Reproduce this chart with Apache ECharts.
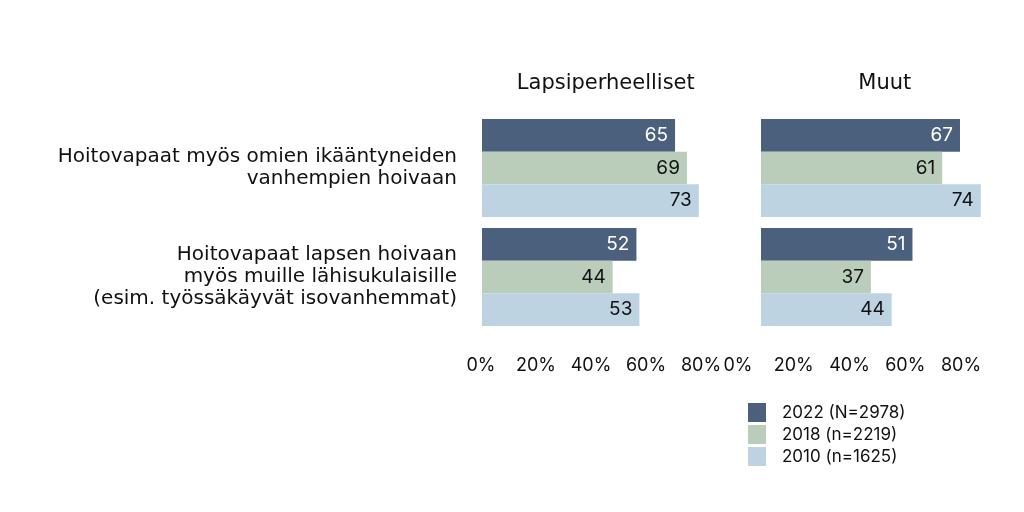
<!DOCTYPE html>
<html><head><meta charset="utf-8">
<script src="https://cdn.jsdelivr.net/npm/echarts@6/dist/echarts.min.js"></script>
<style>html,body{margin:0;padding:0;background:#fff}#c{width:1024px;height:512px}</style>
</head><body><div id="c"></div>
<script>
const categories = ['Hoitovapaat myös omien ikääntyneiden\nvanhempien hoivaan', 'Hoitovapaat lapsen hoivaan\nmyös muille lähisukulaisille\n(esim. työssäkäyvät isovanhemmat)'];
const panels = ['Lapsiperheelliset', 'Muut'];
const seriesNames = ['2022 (N=2978)', '2018 (n=2219)', '2010 (n=1625)'];
const lapsi2022 = [65, 52];
const lapsi2018 = [69, 44];
const lapsi2010 = [73, 53];
const muut2022 = [67, 51];
const muut2018 = [61, 37];
const muut2010 = [74, 44];
const tickValues = [0, 20, 40, 60, 80];

const colors = ['#4b607c', '#bacdbb', '#bed3e2'];
const labelColors = ['#ffffff', '#111111', '#111111'];
const FONT = 'Inter';
const WIDE = 'DejaVu Sans';

const data = [[lapsi2022, lapsi2018, lapsi2010], [muut2022, muut2018, muut2010]];
const gridLefts = [482, 761];
const gridW = 237.6;

const chart = echarts.init(document.getElementById('c'));
const grids = [], xAxes = [], yAxes = [], series = [], titles = [];
for (let p = 0; p < 2; p++) {
  grids.push({left: gridLefts[p], top: 113.5, width: gridW, height: 218});
  xAxes.push({type: 'value', gridIndex: p, min: 0, max: 80, show: false});
  yAxes.push({type: 'category', gridIndex: p, inverse: true, data: categories,
    axisLine: {show: false}, axisTick: {show: false}, splitLine: {show: false},
    axisLabel: {show: p === 0, margin: 25, fontFamily: WIDE, fontSize: 20, lineHeight: 22, color: '#111', align: 'right'}});
  titles.push({text: panels[p], left: gridLefts[p] + gridW / 2, top: 68, textAlign: 'center',
    textStyle: {fontFamily: WIDE, fontSize: 21, fontWeight: 'normal', color: '#111'}});
  for (let s = 0; s < 3; s++) {
    series.push({type: 'bar', name: seriesNames[s], xAxisIndex: p, yAxisIndex: p,
      data: data[p][s], barGap: '0%', barCategoryGap: '10%',
      itemStyle: {color: colors[s]},
      label: {show: true, position: 'insideRight', distance: 7, fontFamily: FONT, fontSize: 19, color: labelColors[s]},
      emphasis: {disabled: true}});
  }
}
// tick label axes
const tickLefts = [481, 738];
const tickW = [220, 223];
for (let p = 0; p < 2; p++) {
  grids.push({left: tickLefts[p], top: 350, width: tickW[p], height: 1});
  xAxes.push({type: 'value', gridIndex: 2 + p, min: 0, max: 80, interval: 20,
    axisLine: {show: false}, axisTick: {show: false}, splitLine: {show: false},
    axisLabel: {margin: 6, fontFamily: FONT, fontSize: 18, color: '#111', formatter: v => v + '%', showMinLabel: true, showMaxLabel: true}});
  yAxes.push({type: 'value', gridIndex: 2 + p, show: false});
}

chart.setOption({
  animation: false,
  title: titles,
  grid: grids, xAxis: xAxes, yAxis: yAxes, series: series,
  legend: {orient: 'vertical', left: 748, top: 403, padding: 0, itemWidth: 18, itemHeight: 19, itemGap: 3,
    data: seriesNames.map((n, i) => ({name: n, itemStyle: {color: colors[i]}})), icon: 'rect',
    textStyle: {fontFamily: FONT, fontSize: 17, color: '#111', padding: [0, 0, 0, 11]}}
});
</script></body></html>
